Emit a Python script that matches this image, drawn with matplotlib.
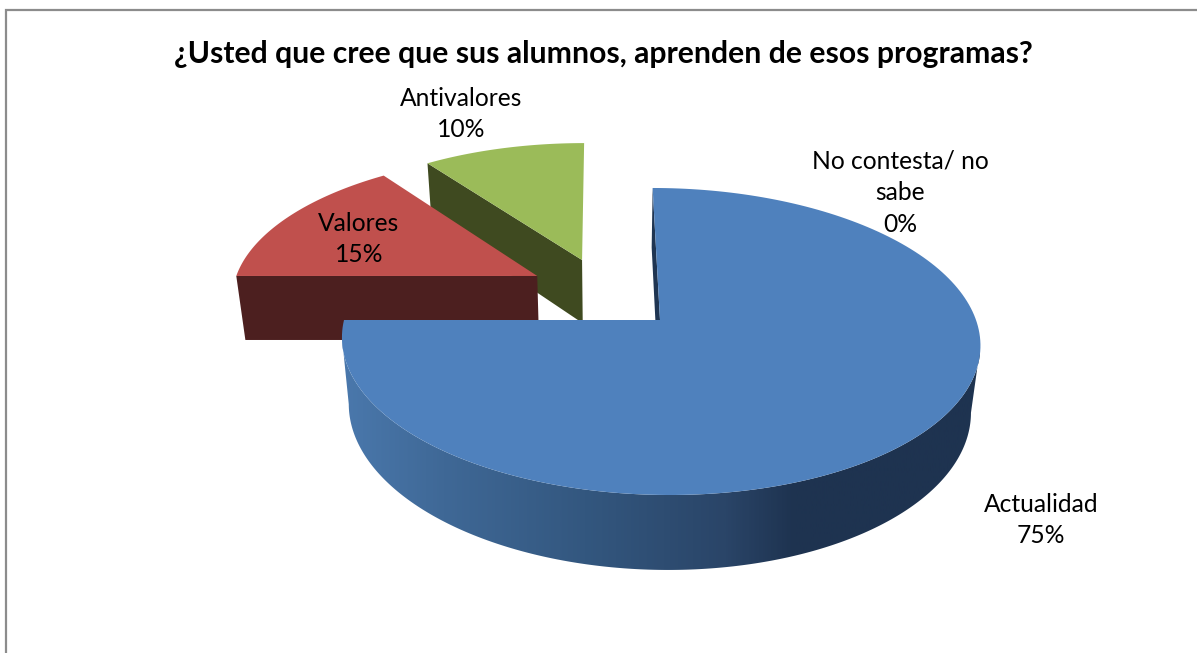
import numpy as np
import matplotlib
matplotlib.use('Agg')
import matplotlib.pyplot as plt
from matplotlib.colors import LinearSegmentedColormap
from matplotlib.patches import Polygon

plt.rcParams['font.family'] = ['Lato', 'DejaVu Sans']

title = '¿Usted que cree que sus alumnos, aprenden de esos programas?'
categories = ['Actualidad', 'Valores', 'Antivalores', 'No contesta/ no\nsabe']
values = [75, 15, 10, 0]

top_colors = ['#4F81BD', '#C0504D', '#9BBB59']
side_colors = ['#1F3552', '#4C1F1F', '#3F4A20']
# how far each slice is pulled off the centre, in disc units
explode = [(0.0, 0.0), (-0.397, 0.305), (-0.25, 0.422)]
slice_r = [1.0, 0.993, 0.985]
label_xy = [(1041, 520), (359, 239), (461, 114), (900, 193)]

fig = plt.figure(figsize=(11.97, 6.53), dpi=100)
ax = fig.add_axes([0, 0, 1, 1])
ax.set_xlim(0, 1197)
ax.set_ylim(653, 0)
ax.axis('off')

# perspective of the disc plane
apex_x, apex_y = 660, 320
radius_x = 316
persp = 0.14
vanish_x, vanish_y = 600, -755


def project(u, v):
    w = 1 + persp * v
    sx = (apex_x + radius_x * u + persp * v * vanish_x) / w
    sy = (apex_y + persp * v * vanish_y) / w
    return sx, sy


def drop(sx, sy):
    # bottom face of the pie, a little deeper near the viewer
    d = 64 + 0.05 * (sy - 276)
    return sx + (610 - sx) * d * 0.00038, sy + d


def slice_outline(start, end, off, r):
    ang = np.radians(np.linspace(start, end, 200))
    u = np.concatenate([[0], r * np.sin(ang)]) + off[0]
    v = np.concatenate([[0], r * np.cos(ang)]) + off[1]
    return project(u, v)


# angles go clockwise from 12 o'clock, in the order of the data
edges = np.cumsum([0] + values) / sum(values) * 360
shares = ['%d%%' % round(100 * val / sum(values)) for val in values]

# painted back to front: green, red, then the big blue one
for i in [2, 1, 0]:
    start, end = edges[i], edges[i + 1]
    sx, sy = slice_outline(start, end, explode[i], slice_r[i])
    if i == 0:
        # rim with the left-to-right shading, between the widest points of the disc
        ang = np.radians(np.linspace(start, end, 1000))
        rx, ry = project(np.sin(ang), np.cos(ang))
        keep = np.arange(rx.argmax(), rx.argmin() + 1)
        rx, ry = rx[keep], ry[keep]
        bx, by = drop(rx, ry)
        rim = Polygon(np.column_stack([np.r_[rx, bx[::-1]], np.r_[ry, by[::-1]]]),
                      closed=True, fc='none', ec='none')
        ax.add_patch(rim)
        cmap = LinearSegmentedColormap.from_list(
            'rim', [(0, '#4A78AC'), (0.16, '#3F6896'), (0.38, '#33577F'),
                    (0.6, '#2A4568'), (0.71, '#1E3350'), (1, '#1E3350')])
        img = ax.imshow(np.linspace(0, 1, 400)[None, :], cmap=cmap, aspect='auto',
                        extent=[342, 980, 653, 0], zorder=1)
        img.set_clip_path(rim)
        ax.set_xlim(0, 1197)
        ax.set_ylim(653, 0)
    # the cut face that shows runs from the apex to the first rim point
    cx = [sx[0], sx[1]]
    cy = [sy[0], sy[1]]
    dx, dy = drop(np.array(cx), np.array(cy))
    zo = 2 + 2 * (2 - i)
    ax.add_patch(Polygon(np.column_stack([np.r_[cx, dx[::-1]], np.r_[cy, dy[::-1]]]),
                         closed=True, fc=side_colors[i], ec='none', zorder=zo))
    ax.add_patch(Polygon(np.column_stack([sx, sy]), closed=True,
                         fc=top_colors[i], ec='none', zorder=zo + 1))

# frame of the chart area
ax.plot([5.5, 5.5, 1197], [653, 9.5, 9.5], color='#8C8C8C', lw=1.6, zorder=9,
        solid_joinstyle='miter', clip_on=False)

ax.text(603, 54, title, fontsize=21.7, fontweight='bold', ha='center', va='center',
        color='black', zorder=10)
for name, share, (lx, ly) in zip(categories, shares, label_xy):
    ax.text(lx, ly, name + '\n' + share, fontsize=17.7, ha='center', va='center',
            color='black', linespacing=1.47, zorder=10)

fig.savefig('out.png', dpi=100)
